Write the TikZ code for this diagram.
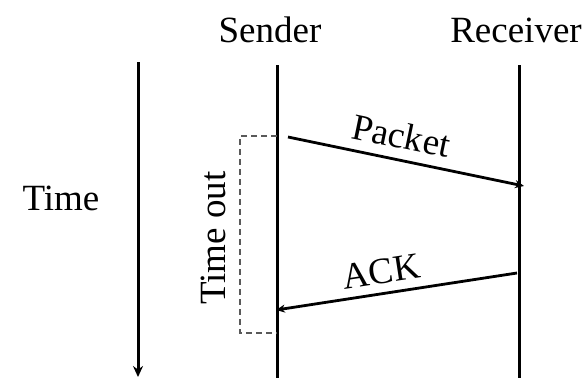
\documentclass[tikz,border=0pt]{standalone}
\usepackage{fontspec}
\setmainfont{Liberation Serif}
\usetikzlibrary{arrows.meta}
\begin{document}
\begin{tikzpicture}[x=1pt,y=-1pt,
  lbl/.style={font=\fontsize{37}{40}\selectfont, inner sep=0pt},
  life/.style={line width=3pt},
  msg/.style={line width=2.8pt, -{Stealth[length=9pt,width=8pt]}}]
\useasboundingbox (0,0) rectangle (588,378);
\node[lbl] (snd) at (270,30) {Sender};
\node[lbl] (rcv) at (516,30) {Receiver};
\node[lbl] (time) at (61,198) {Time};
\coordinate (ttop) at (138,62);
\coordinate (tbot) at (138,377);
\draw[line width=3pt, -{Stealth[length=11pt,width=10pt]}] (ttop) -- (tbot);
\coordinate (stop) at (277,65);
\coordinate (sbot) at (277,378);
\coordinate (rtop) at (519,65);
\coordinate (rbot) at (519,378);
\draw[life] (stop) -- (sbot);
\draw[life] (rtop) -- (rbot);
\coordinate (p1) at (288,137);
\coordinate (p2) at (524,186);
\draw[msg] (p1) -- (p2) node[pos=0.46, above=10pt, sloped, lbl] (pk) {Packet};
\coordinate (a1) at (517,273);
\coordinate (a2) at (276,310);
\draw[msg] (a1) -- (a2) node[pos=0.55, above=8pt, sloped, lbl] (ack) {ACK};
\draw[dashed, line width=1.5pt, gray!70!black, dash pattern=on 6pt off 4pt] (277,136) -- (240,136) -- (240,333) -- (277,333);
\node[lbl, rotate=90] (to) at (213,238) {Time out};
\end{tikzpicture}
\end{document}
